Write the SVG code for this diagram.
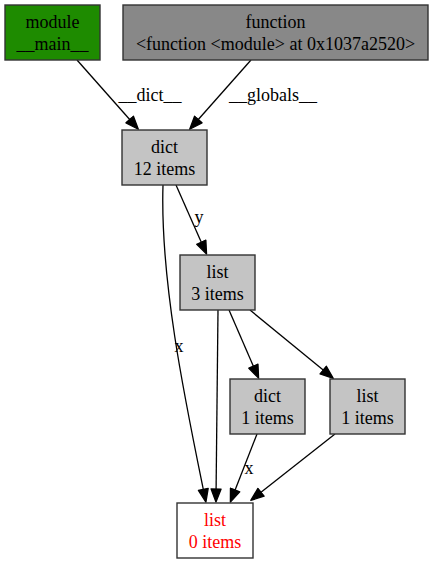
<svg xmlns="http://www.w3.org/2000/svg" width="435" height="564" viewBox="0 0 435 564">
<style>
text{font-family:"Liberation Serif","Times New Roman",serif;font-size:18px;text-anchor:middle;fill:#000}
.n rect{stroke:#333;stroke-width:1.4}
.g rect{fill:#c4c4c4}
.e path{fill:none;stroke:#000;stroke-width:1.3}
.red{fill:#ff0000}
</style>
<defs>
<marker id="ah" viewBox="-1 -1 16 12" refX="0" refY="5" markerWidth="16" markerHeight="12" markerUnits="userSpaceOnUse" orient="auto">
<path d="M0,0 L13,5 L0,10 Z" fill="#000" stroke="#000" stroke-width="1.3" stroke-linejoin="round"/>
</marker>
</defs>
<rect width="435" height="564" fill="#fff"/>
<g id="edges" class="e">
<path d="M77,60 L129.7,119.5" marker-end="url(#ah)"/>
<text x="150" y="101">__dict__</text>
<path d="M251,60 L198.3,119.5" marker-end="url(#ah)"/>
<text x="273" y="101">__globals__</text>
<path d="M176,185 L201.3,242.2" marker-end="url(#ah)"/>
<text x="199" y="223">y</text>
<path d="M163,185 C160,280 185,400 203.3,489.3" marker-end="url(#ah)"/>
<text x="179" y="352">x</text>
<path d="M218,310 L216.1,489" marker-end="url(#ah)"/>
<path d="M229,310 L253.4,366.2" marker-end="url(#ah)"/>
<path d="M250,310 L323.2,370.1" marker-end="url(#ah)"/>
<path d="M257,434 L235.1,490" marker-end="url(#ah)"/>
<text x="249" y="474">x</text>
<path d="M335,434 L261,492.3" marker-end="url(#ah)"/>
</g>
<g id="module_main" class="n">
<rect x="5" y="5" width="95" height="55" fill="#1e8b00"/>
<text x="52.5" y="28">module</text>
<text x="52.5" y="50">__main__</text>
</g>
<g id="function" class="n">
<rect x="123" y="5" width="305" height="55" fill="#888888"/>
<text x="275.5" y="28">function</text>
<text x="275.5" y="50">&lt;function &lt;module&gt; at 0x1037a2520&gt;</text>
</g>
<g id="dict12" class="n g">
<rect x="122" y="130" width="85" height="55"/>
<text x="164.5" y="153">dict</text>
<text x="164.5" y="175">12 items</text>
</g>
<g id="list3" class="n g">
<rect x="180" y="255" width="75" height="55"/>
<text x="217.5" y="278">list</text>
<text x="217.5" y="300">3 items</text>
</g>
<g id="dict1" class="n g">
<rect x="230" y="379" width="75" height="55"/>
<text x="267.5" y="402">dict</text>
<text x="267.5" y="424">1 items</text>
</g>
<g id="list1" class="n g">
<rect x="330" y="379" width="75" height="55"/>
<text x="367.5" y="402">list</text>
<text x="367.5" y="424">1 items</text>
</g>
<g id="list0" class="n">
<rect x="177" y="503" width="76" height="55" fill="#fff"/>
<text x="215" y="526" class="red">list</text>
<text x="215" y="548" class="red">0 items</text>
</g>
</svg>
